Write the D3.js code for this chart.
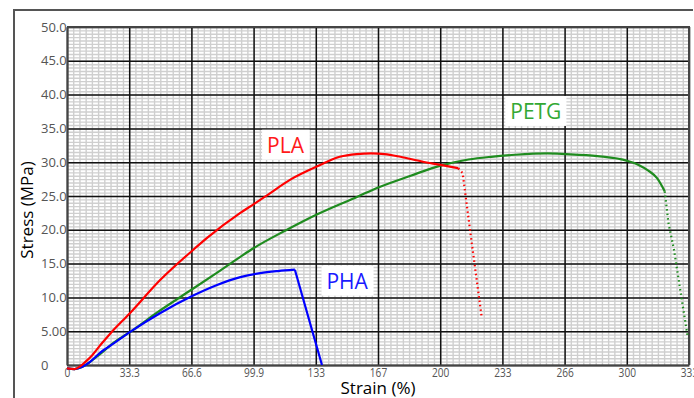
<!DOCTYPE html>
<head>
<meta charset="utf-8">
<title>Stress - Strain</title>
<style>
body {
  margin: 0;
  background: #fff;
  font-family: "Open Sans", Arial, sans-serif;
}
.minor line {
  stroke: #cfcfcf;
  stroke-width: 1.4;
}
.major line {
  stroke: #111;
  stroke-width: 1.5;
}
.minor path, .major path {
  display: none;
}
.axis path {
  stroke: #444;
  stroke-width: 2;
}
.axis text {
  fill: #555;
  font-size: 13px;
  font-family: "Open Sans", Arial, sans-serif;
}
.curve {
  fill: none;
  stroke-width: 2.2;
  stroke-linejoin: round;
}
</style>
<script src="https://cdn.jsdelivr.net/npm/d3@7"></script>
</head>

<body>
<script>
// x ticks (strain %) and y ticks (stress MPa)
var strainTicks = [0, 33.3, 66.6, 99.9, 133.2, 166.5, 199.8, 233.1, 266.4, 299.7, 333];
var strainLabels = ["0", "33.3", "66.6", "99.9", "133", "167", "200", "233", "266", "300", "333"];
var stressTicks = [0, 5, 10, 15, 20, 25, 30, 35, 40, 45, 50];
var stressLabels = ["0", "5.00", "10.0", "15.0", "20.0", "25.0", "30.0", "35.0", "40.0", "45.0", "50.0"];

// PLA
var plaStrain = [0, 4, 7, 10, 13, 18, 23, 33.8, 50, 67, 75, 92.8, 100, 106, 120, 134, 146, 155, 163, 170, 178.5, 190, 200, 209.5];
var plaStress = [-0.5, -0.6, -0.2, 0.5, 1.3, 3.0, 4.6, 7.7, 12.6, 16.9, 18.8, 22.5, 23.8, 24.9, 27.5, 29.4, 30.8, 31.2, 31.3, 31.2, 30.8, 30.1, 29.6, 29.1];
var plaBreakStrain = [209.5, 211.8, 216, 222];
var plaBreakStress = [29.1, 28.4, 19.5, 7.1];

// PETG
var petgStrain = [0, 4, 8, 12, 17.7, 25, 33.8, 50, 67, 80, 92.8, 100, 117, 134, 155.5, 167, 184, 200, 215, 227, 240, 257, 267, 284, 300, 306, 311, 316, 320];
var petgStress = [-0.5, -0.6, -0.3, 0.4, 1.6, 3.3, 4.9, 8.1, 11.2, 13.6, 16.0, 17.3, 19.9, 22.3, 24.9, 26.3, 28.0, 29.5, 30.4, 30.8, 31.1, 31.3, 31.2, 30.9, 30.2, 29.6, 28.8, 27.6, 25.7];
var petgBreakStrain = [320, 322, 325, 328.6, 332.4];
var petgBreakStress = [25.7, 21, 17, 10.6, 4.0];

// PHA
var phaStrain = [0, 4, 8, 12, 17.7, 25, 33.8, 50, 67, 80, 92.8, 103.5, 113, 122];
var phaStress = [-0.5, -0.6, -0.3, 0.4, 1.8, 3.2, 4.9, 7.7, 10.2, 11.8, 13.0, 13.6, 13.9, 14.1];
var phaBreakStrain = [122, 136.5];
var phaBreakStress = [14.1, 0];

// curve labels
var labelNames = ["PLA", "PETG", "PHA"];
var labelStrain = [117, 251, 150];
var labelStress = [31.4, 36.4, 11.3];
var labelColors = ["#ff1a1a", "#33a833", "#1a1aff"];

var width = 694
    height = 398
    margin = { top: 27, right: 5, bottom: 33, left: 67 }
;

var x = d3.scaleLinear().domain([0, 333]).range([margin.left, width - margin.right]);
var y = d3.scaleLinear().domain([0, 50]).range([height - margin.bottom, margin.top]);

var svg = d3.select("body")
            .append("svg")
            .attr("width", width)
            .attr("height", height)
            ;

// outer window frame
svg.append("path")
   .attr("d", "M14," + height + "V10H693")
   .attr("fill", "none")
   .attr("stroke", "#555")
   .attr("stroke-width", 2);

// minor grid
svg.append("g")
   .attr("class", "minor")
   .attr("transform", "translate(0," + y(0) + ")")
   .call(d3.axisBottom(x).tickValues(d3.range(0, 101).map(function(i) { return i * 3.33; }))
           .tickSize(-(y(0) - y(50))).tickFormat(""));
svg.append("g")
   .attr("class", "minor")
   .attr("transform", "translate(" + x(0) + ",0)")
   .call(d3.axisLeft(y).tickValues(d3.range(0, 101).map(function(i) { return i * 0.5; }))
           .tickSize(-(x(333) - x(0))).tickFormat(""));

// major grid
svg.append("g")
   .attr("class", "major")
   .attr("transform", "translate(0," + y(0) + ")")
   .call(d3.axisBottom(x).tickValues(strainTicks).tickSize(-(y(0) - y(50))).tickFormat(""));
svg.append("g")
   .attr("class", "major")
   .attr("transform", "translate(" + x(0) + ",0)")
   .call(d3.axisLeft(y).tickValues(stressTicks).tickSize(-(x(333) - x(0))).tickFormat(""));

// axes with labels
var xAxis = svg.append("g")
   .attr("class", "axis")
   .attr("transform", "translate(0," + y(0) + ")")
   .call(d3.axisBottom(x).tickValues(strainTicks).tickSize(0).tickPadding(3)
           .tickFormat(function(d, i) { return strainLabels[i]; }));
xAxis.selectAll("text").attr("transform", "scale(0.78,1)");

var yAxis = svg.append("g")
   .attr("class", "axis")
   .attr("transform", "translate(" + x(0) + ",0)")
   .call(d3.axisLeft(y).tickValues(stressTicks).tickSize(0)
           .tickFormat(function(d, i) { return stressLabels[i]; }));
yAxis.selectAll("text").attr("text-anchor", "start").attr("x", -26);

// top and right border
svg.append("path")
   .attr("d", "M" + x(0) + "," + y(50) + "H" + x(333) + "V" + y(0))
   .attr("fill", "none")
   .attr("stroke", "#444")
   .attr("stroke-width", 2);

// axis titles
svg.append("text")
   .attr("transform", "translate(33," + 210 + ") rotate(-90)")
   .attr("text-anchor", "middle")
   .style("font-size", "17px")
   .text("Stress (MPa)");
svg.append("text")
   .attr("x", 378)
   .attr("y", 394)
   .attr("text-anchor", "middle")
   .style("font-size", "17px")
   .text("Strain (%)");

// curves
function zip(xs, ys) {
  return xs.map(function(d, i) { return [d, ys[i]]; });
}
var smooth = d3.line().x(function(d) { return x(d[0]); }).y(function(d) { return y(d[1]); }).curve(d3.curveMonotoneX);
var straight = d3.line().x(function(d) { return x(d[0]); }).y(function(d) { return y(d[1]); });

var series = [
  { pts: zip(petgStrain, petgStress), brk: zip(petgBreakStrain, petgBreakStress), color: "#1f8c1f", dotted: true },
  { pts: zip(phaStrain, phaStress), brk: zip(phaBreakStrain, phaBreakStress), color: "#0000ff", dotted: false },
  { pts: zip(plaStrain, plaStress), brk: zip(plaBreakStrain, plaBreakStress), color: "#ff0000", dotted: true }
];

series.forEach(function(s) {
  svg.append("path")
     .attr("class", "curve")
     .attr("stroke", s.color)
     .attr("d", smooth(s.pts));
  svg.append("path")
     .attr("class", "curve")
     .attr("stroke", s.color)
     .attr("stroke-width", s.dotted ? 2 : 2.2)
     .attr("stroke-dasharray", s.dotted ? "1.5,3" : null)
     .attr("d", straight(s.brk));
});

// curve name labels with white boxes
labelNames.forEach(function(name, i) {
  var g = svg.append("g");
  var t = g.append("text")
           .attr("x", x(labelStrain[i]))
           .attr("y", y(labelStress[i]))
           .attr("text-anchor", "middle")
           .attr("fill", labelColors[i])
           .style("font-size", "21px")
           .text(name);
  var b = t.node().getBBox();
  g.insert("rect", "text")
   .attr("x", b.x - 5)
   .attr("y", b.y - 1)
   .attr("width", b.width + 10)
   .attr("height", b.height + 2)
   .attr("fill", "#fff");
});
</script>
</body>
